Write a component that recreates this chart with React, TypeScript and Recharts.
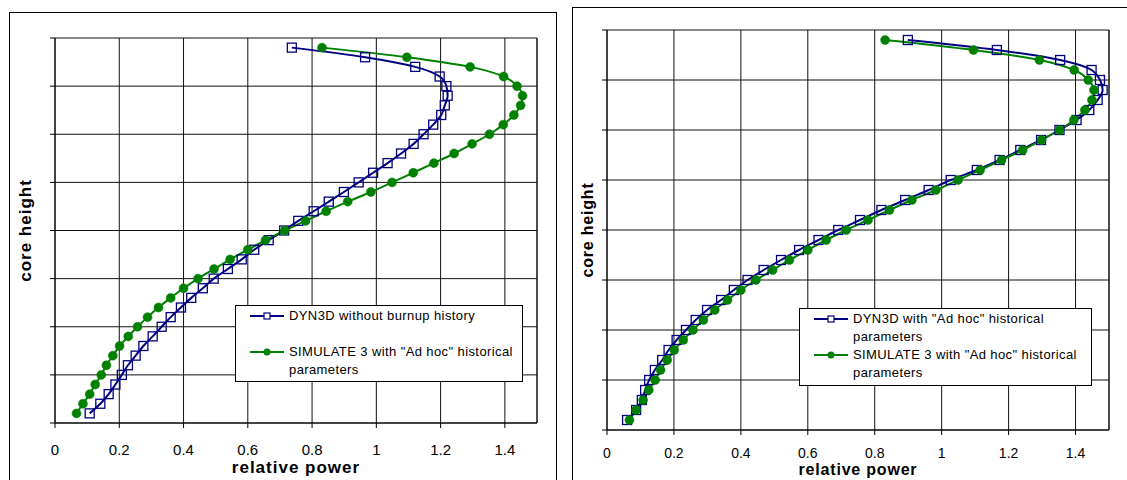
import {
  CartesianGrid,
  Legend,
  Line,
  LineChart,
  ReferenceLine,
  XAxis,
  YAxis,
} from "recharts";

// Core height of each node (cm), bottom to top.
const HEIGHTS = [
  10, 20, 30, 40, 50, 60, 70, 80, 90, 100, 110, 120, 130, 140, 150, 160, 170,
  180, 190, 200, 210, 220, 230, 240, 250, 260, 270, 280, 290, 300, 310, 320,
  330, 340, 350, 360, 370, 380, 390,
];

const POWER_TICKS = [0, 0.2, 0.4, 0.6, 0.8, 1, 1.2, 1.4];
const HEIGHT_TICKS = [0, 50, 100, 150, 200, 250, 300, 350, 400];

// Relative power, bottom to top.
const DYN3D_NO_BURNUP = [
  0.108, 0.141, 0.167, 0.188, 0.208, 0.227, 0.251, 0.275, 0.304, 0.332, 0.36,
  0.392, 0.424, 0.46, 0.494, 0.538, 0.581, 0.62, 0.665, 0.713, 0.757, 0.805,
  0.852, 0.899, 0.945, 0.99, 1.035, 1.077, 1.116, 1.147, 1.177, 1.202, 1.213,
  1.222, 1.218, 1.197, 1.121, 0.965, 0.737,
];

const DYN3D_AD_HOC = [
  0.06, 0.087, 0.104, 0.114, 0.126, 0.143, 0.165, 0.184, 0.208, 0.236, 0.265,
  0.299, 0.341, 0.379, 0.42, 0.468, 0.52, 0.574, 0.632, 0.691, 0.756, 0.82,
  0.891, 0.961, 1.027, 1.105, 1.173, 1.235, 1.297, 1.352, 1.403, 1.441, 1.466,
  1.481, 1.473, 1.448, 1.354, 1.165, 0.899,
];

const SIMULATE3_AD_HOC = [
  0.067, 0.087, 0.108, 0.125, 0.144, 0.16, 0.18, 0.201, 0.228, 0.257, 0.288,
  0.322, 0.36, 0.4, 0.445, 0.495, 0.545, 0.6, 0.655, 0.715, 0.78, 0.844, 0.911,
  0.983, 1.049, 1.115, 1.179, 1.242, 1.298, 1.352, 1.395, 1.428, 1.449, 1.455,
  1.438, 1.396, 1.292, 1.095, 0.831,
];

const NAME_NO_BURNUP = "DYN3D without burnup history";
const NAME_DYN_AD_HOC = 'DYN3D with "Ad hoc" historical parameters';
const NAME_SIM_AD_HOC = 'SIMULATE 3 with "Ad hoc" historical parameters';

const BLUE = "#000080";
const GREEN = "#008000";
const FONT = '"Liberation Sans", Arial, sans-serif';

const SquareDot = (props: any) => {
  const { cx, cy, index } = props;
  if (cx == null || cy == null) return <g key={`sq-${index}`} />;
  return (
    <rect
      key={`sq-${index}`}
      x={cx - 4.5}
      y={cy - 4.5}
      width={9}
      height={9}
      fill="none"
      stroke={BLUE}
      strokeWidth={1.3}
    />
  );
};

const LegendBox = ({ payload }: any) => (
  <div
    style={{
      border: "1px solid #000",
      background: "#fff",
      boxSizing: "border-box",
      height: "100%",
      padding: "1px 4px 2px 14px",
      fontFamily: FONT,
      fontSize: 13,
      lineHeight: "18px",
      letterSpacing: 0.4,
      color: "#000",
      textAlign: "left",
    }}
  >
    {(payload ?? []).map((entry: any) => {
      const isDyn = entry.dataKey === "dyn";
      return (
        <div key={entry.value} style={{ display: "flex", minHeight: 36 }}>
          <svg width={34} height={18} style={{ flex: "none", marginRight: 5 }}>
            <line x1={0} x2={34} y1={9} y2={9} stroke={entry.color} strokeWidth={2} />
            {isDyn ? (
              <rect x={14} y={6} width={6} height={6} fill="#fff" stroke={BLUE} strokeWidth={1.2} />
            ) : (
              <circle cx={17} cy={9} r={3.5} fill={GREEN} />
            )}
          </svg>
          <span>{entry.value}</span>
        </div>
      );
    })}
  </div>
);

type PanelProps = {
  dyn: number[];
  sim: number[];
  dynName: string;
  left: number;
  width: number;
  margin: { top: number; right: number; left: number; bottom: number };
  xAxisHeight: number;
  tickFont: number;
  tickMargin: number;
  titleFont: number;
  titleSpacing: number;
  xTitleOffset: number;
  yTitleOffset: number;
  legend: { left: number; top: number; width: number; height: number };
};

const Panel = ({
  dyn,
  sim,
  dynName,
  left,
  width,
  margin,
  xAxisHeight,
  tickFont,
  tickMargin,
  titleFont,
  titleSpacing,
  xTitleOffset,
  yTitleOffset,
  legend,
}: PanelProps) => {
  const data = HEIGHTS.map((h, i) => ({ h, dyn: dyn[i], sim: sim[i] }));
  const titleStyle = {
    fontWeight: 700,
    fontSize: titleFont,
    letterSpacing: titleSpacing,
    fill: "#000",
    fontFamily: FONT,
  };
  return (
    <div style={{ position: "absolute", left, top: 0 }}>
      <LineChart
        width={width}
        height={480}
        data={data}
        layout="vertical"
        margin={margin}
        style={{ fontFamily: FONT }}
      >
        <CartesianGrid stroke="#111" strokeWidth={1} />
        <XAxis
          type="number"
          domain={[0, 1.5]}
          ticks={POWER_TICKS}
          interval={0}
          allowDataOverflow
          height={xAxisHeight}
          tickSize={5}
          tickMargin={tickMargin}
          stroke="#000"
          tick={{ fill: "#000", fontSize: tickFont, fontFamily: FONT }}
          label={{
            value: "relative power",
            position: "bottom",
            offset: xTitleOffset,
            style: titleStyle,
          }}
        />
        <YAxis
          type="number"
          dataKey="h"
          domain={[0, 400]}
          ticks={HEIGHT_TICKS}
          interval={0}
          reversed
          width={10}
          tickSize={5}
          stroke="#000"
          tickFormatter={() => ""}
          label={{
            value: "core height",
            angle: -90,
            position: "left",
            offset: yTitleOffset,
            style: { ...titleStyle, textAnchor: "middle" },
          }}
        />
        <ReferenceLine x={1.5} stroke="#111" strokeWidth={1} />
        <Legend
          layout="vertical"
          align="center"
          verticalAlign="middle"
          wrapperStyle={{ ...legend, position: "absolute" }}
          content={<LegendBox />}
        />
        <Line
          type="monotone"
          dataKey="dyn"
          name={dynName}
          stroke={BLUE}
          strokeWidth={2}
          dot={SquareDot}
          activeDot={false}
          isAnimationActive={false}
        />
        <Line
          type="monotone"
          dataKey="sim"
          name={NAME_SIM_AD_HOC}
          stroke={GREEN}
          strokeWidth={2}
          dot={{ r: 4.5, fill: GREEN, stroke: GREEN, strokeWidth: 0.5 }}
          activeDot={false}
          isAnimationActive={false}
        />
      </LineChart>
    </div>
  );
};

const App = () => (
  <div
    style={{
      position: "absolute",
      left: 0,
      top: 0,
      width: 1127,
      height: 480,
      overflow: "hidden",
      background: "#fff",
    }}
  >
    <div
      style={{
        position: "absolute",
        left: 9,
        top: 12,
        width: 548,
        height: 520,
        border: "1.5px solid #000",
        boxSizing: "border-box",
      }}
    />
    <div
      style={{
        position: "absolute",
        left: 572,
        top: 7,
        width: 600,
        height: 520,
        border: "1.5px solid #000",
        boxSizing: "border-box",
      }}
    />
    <Panel
      dyn={DYN3D_NO_BURNUP}
      sim={SIMULATE3_AD_HOC}
      dynName={NAME_NO_BURNUP}
      left={0}
      width={560}
      margin={{ top: 38, right: 23, left: 45, bottom: 27 }}
      xAxisHeight={30}
      tickFont={15}
      tickMargin={16}
      titleFont={17}
      titleSpacing={1}
      xTitleOffset={8}
      yTitleOffset={20}
      legend={{ left: 235, top: 305, width: 288, height: 77 }}
    />
    <Panel
      dyn={DYN3D_AD_HOC}
      sim={SIMULATE3_AD_HOC}
      dynName={NAME_DYN_AD_HOC}
      left={560}
      width={567}
      margin={{ top: 30, right: 18, left: 37, bottom: 22 }}
      xAxisHeight={28}
      tickFont={14}
      tickMargin={13}
      titleFont={16}
      titleSpacing={0.8}
      xTitleOffset={6}
      yTitleOffset={10}
      legend={{ left: 239, top: 308, width: 293, height: 78 }}
    />
  </div>
);

export default App;
